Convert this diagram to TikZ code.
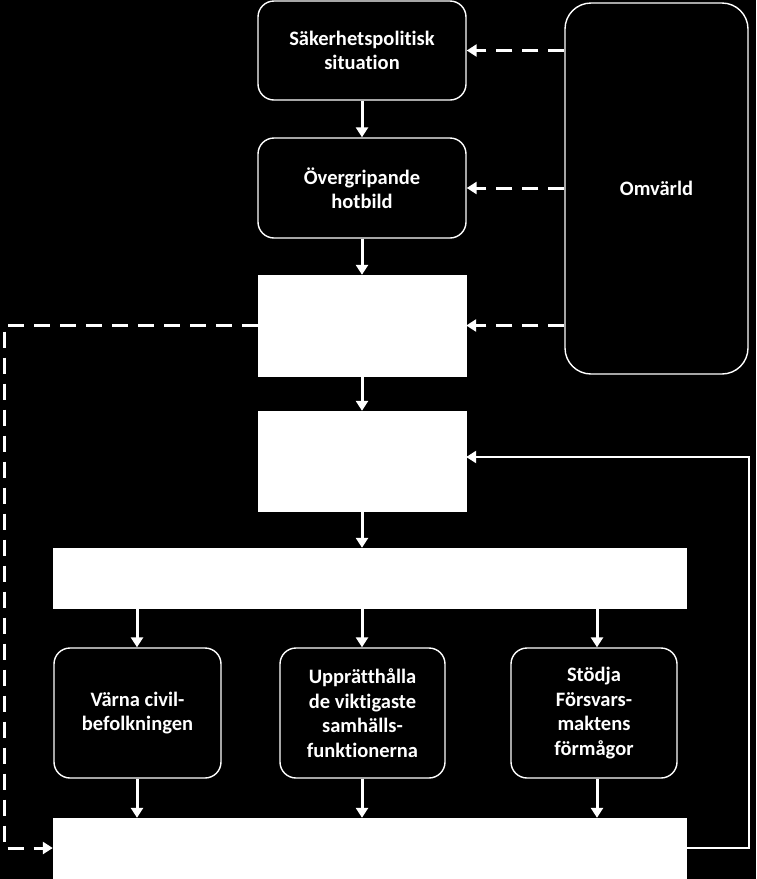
\documentclass[tikz,border=0pt]{standalone}
\usepackage{fontspec}
\setmainfont[Ligatures={NoCommon}]{Carlito}
\usetikzlibrary{arrows.meta}
\begin{document}
\begin{tikzpicture}[x=1pt,y=-1pt,
  rbox/.style={draw=white,line width=1.4pt,fill=black,rounded corners=16pt,text=white,
    font=\bfseries\fontsize{20.5}{24.5}\selectfont,align=center,inner sep=0pt},
  wbox/.style={draw=white,fill=white,inner sep=0pt},
  flow/.style={draw=white,line width=3pt,-{Triangle[width=12pt,length=10pt]}},
  dflow/.style={draw=white,line width=3pt,dash pattern=on 16pt off 10pt,-{Triangle[width=12pt,length=10pt]}},
  fb/.style={draw=white,line width=2.4pt,-{Triangle[width=12pt,length=10pt]}}
]
\fill[black] (0,0) rectangle (756,879);
\useasboundingbox (0,0) rectangle (756,879);

\node[rbox,minimum width=208pt,minimum height=99pt] (A) at (362,50.5) {Säkerhetspolitisk\\situation};
\node[rbox,minimum width=208pt,minimum height=100pt] (B) at (362,188) {Övergripande\\hotbild};
\node[wbox,minimum width=208pt,minimum height=101pt] (C) at (362,325.5) {};
\node[wbox,minimum width=208pt,minimum height=100pt] (D) at (362,461) {};
\node[wbox,minimum width=633pt,minimum height=60pt] (E) at (369.5,578) {};
\node[rbox,minimum width=167pt,minimum height=130pt] (F) at (137.5,713) {Värna civil-\\befolkningen};
\node[rbox,minimum width=165pt,minimum height=130pt] (G) at (362.5,713) {Upprätthålla\\de viktigaste\\samhälls-\\funktionerna};
\node[rbox,minimum width=166pt,minimum height=130pt] (H) at (594,713) {Stödja\\Försvars-\\maktens\\förmågor};
\node[wbox,minimum width=633pt,minimum height=62pt] (I) at (369.5,849) {};
\node[rbox,rounded corners=26pt,minimum width=183pt,minimum height=371pt] (O) at (656.5,188.5) {Omvärld};

\draw[flow] (A) -- (B);
\draw[flow] (B) -- (C);
\draw[flow] (C) -- (D);
\draw[flow] (D) -- (E.north -| D);
\draw[flow] (E.south -| 137,0) -- (F.north -| 137,0);
\draw[flow] (E.south -| 362,0) -- (G.north -| 362,0);
\draw[flow] (E.south -| 597,0) -- (H.north -| 597,0);
\draw[flow] (F.south -| 137,0) -- (I.north -| 137,0);
\draw[flow] (G.south -| 362,0) -- (I.north -| 362,0);
\draw[flow] (H.south -| 597,0) -- (I.north -| 597,0);

\draw[dflow] (O.west |- A.east) -- (A.east);
\draw[dflow] (O.west |- B.east) -- (B.east);
\draw[dflow] (O.west |- C.east) -- (C.east);

\coordinate (lc) at (4,848);
\draw[dflow] (C.west) -| (lc) -- (lc -| I.west);

\coordinate (rc) at (749,457);
\draw[fb] (I.east |- lc) -| (rc) -- (rc -| D.east);
\end{tikzpicture}
\end{document}
